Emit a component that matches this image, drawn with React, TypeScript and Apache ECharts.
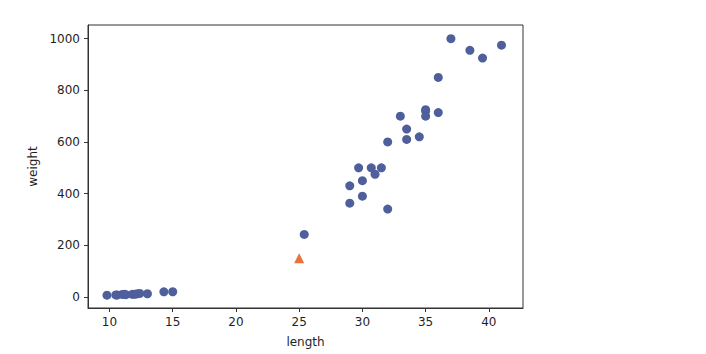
import React, { useEffect, useRef } from "react";
import * as echarts from "echarts";

const breamLength = [25.4, 29.0, 29.0, 29.7, 30.0, 30.0, 30.7, 31.0, 31.5, 32.0, 32.0, 33.0, 33.5, 33.5, 34.5, 35.0, 35.0, 35.0, 36.0, 36.0, 37.0, 38.5, 39.5, 41.0];
const breamWeight = [242, 430, 363, 500, 450, 390, 500, 475, 500, 600, 340, 700, 650, 610, 620, 725, 720, 700, 714, 850, 1000, 955, 925, 975];
const smeltLength = [9.8, 10.5, 10.6, 11.0, 11.2, 11.3, 11.8, 12.0, 12.2, 12.4, 13.0, 14.3, 15.0];
const smeltWeight = [6.7, 7.5, 7.0, 9.7, 9.8, 8.7, 10.0, 9.8, 12.2, 13.4, 12.2, 19.7, 19.9];
const newLength = [25];
const newWeight = [150];

const xTicks = [10, 15, 20, 25, 30, 35, 40];
const yTicks = [0, 200, 400, 600, 800, 1000];

export default function App() {
  const ref = useRef<HTMLDivElement>(null);
  useEffect(() => {
    if (!ref.current) return;
    const chart = echarts.init(ref.current, null, { renderer: "svg" });
    const pts = [
      ...breamLength.map((l, i) => [l, breamWeight[i]]),
      ...smeltLength.map((l, i) => [l, smeltWeight[i]]),
    ];
    const newPts = newLength.map((l, i) => [l, newWeight[i]]);
    const textStyle = { color: "#1f1f1f", fontSize: 12, fontFamily: "DejaVu Sans" };
    chart.setOption({
      animation: false,
      backgroundColor: "#ffffff",
      grid: {
        left: 88,
        right: 183,
        top: 25,
        bottom: 46,
        show: true,
        borderColor: "#333333",
        borderWidth: 1,
        backgroundColor: "transparent",
      },
      xAxis: {
        type: "value",
        min: 8.3,
        max: 42.7,
        name: "length",
        nameLocation: "middle",
        nameGap: 28,
        nameTextStyle: textStyle,
        axisLine: { show: true, onZero: false, lineStyle: { color: "#333333" } },
        axisTick: { show: true, length: 4, customValues: xTicks, lineStyle: { color: "#333333" } },
        axisLabel: { ...textStyle, margin: 8, customValues: xTicks, formatter: (v: number) => String(v) },
        splitLine: { show: false },
      },
      yAxis: {
        type: "value",
        min: -43,
        max: 1053,
        name: "weight",
        nameLocation: "middle",
        nameRotate: 90,
        nameGap: 46,
        nameTextStyle: textStyle,
        axisLine: { show: true, onZero: false, lineStyle: { color: "#333333" } },
        axisTick: { show: true, length: 4, customValues: yTicks, lineStyle: { color: "#333333" } },
        axisLabel: { ...textStyle, margin: 8, customValues: yTicks, formatter: (v: number) => String(v) },
        splitLine: { show: false },
      },
      series: [
        {
          type: "scatter",
          data: pts,
          symbol: "circle",
          symbolSize: 9,
          itemStyle: { color: "#4f5f9b", opacity: 1 },
        },
        {
          type: "scatter",
          data: newPts,
          symbol: "triangle",
          symbolSize: 10,
          itemStyle: { color: "#e8733a", opacity: 1 },
        },
      ],
    });
    return () => chart.dispose();
  }, []);
  return (
    <div
      ref={ref}
      style={{ position: "fixed", left: 0, top: 0, width: 706, height: 354, background: "#fff" }}
    />
  );
}
